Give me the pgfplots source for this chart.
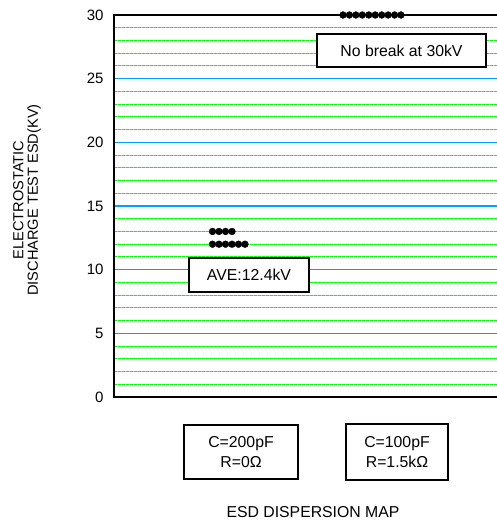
\documentclass[border=0pt]{standalone}
\usepackage{fontspec}
\setmainfont{Liberation Sans}
\usepackage{pgfplots}
\pgfplotsset{compat=1.18}
\definecolor{gridblue}{RGB}{0,160,255}
\definecolor{gridgreen}{RGB}{0,255,0}
\begin{document}
\begin{tikzpicture}[x=1pt,y=1pt,font=\fontsize{15.8}{19}\selectfont]
\useasboundingbox (0,0) rectangle (497,524);
\begin{axis}[
  at={(114pt,127pt)}, anchor=south west,
  scale only axis, width=383pt, height=382pt,
  xmin=114, xmax=497, ymin=0, ymax=30,
  axis line style={draw=none},
  xtick=\empty,
  ytick={0,5,...,30},
  minor y tick num=4,
  major tick length=0pt, minor tick length=0pt,
  ymajorgrids, yminorgrids,
  major grid style={gridblue, line width=1.1pt},
  minor grid style={gridgreen, dash pattern=on 2.5pt off 1.5pt, line width=1pt},
  yticklabel style={font=\fontsize{15}{18}\selectfont, xshift=-7pt},
  /pgf/number format/assume math mode=true,
  clip=false,
]
\addplot[only marks, mark=*, mark size=3.4pt, black] coordinates {
(212.5,12) (219,12) (225.5,12) (232,12) (238.5,12) (245,12)
(212.5,13) (219,13) (225.5,13) (232,13)
};
\draw[line width=2pt] (axis cs:497,30) -- (axis cs:114,30) -- (axis cs:114,0) -- (axis cs:497,0);
\addplot[only marks, mark=*, mark size=3.4pt, black] coordinates {
(343,30) (349.4,30) (355.9,30) (362.3,30) (368.8,30) (375.2,30) (381.7,30) (388.1,30) (394.6,30) (401,30)
};
\end{axis}
\node[draw, line width=1.5pt, fill=white, minimum width=169pt, minimum height=33pt, inner sep=0pt] at (401.5,473.5) {No break at 30kV};
\node[draw, line width=1.5pt, fill=white, minimum width=120pt, minimum height=34pt, inner sep=0pt] at (249,249) {AVE:12.4kV};
\node[draw, line width=1.5pt, fill=white, minimum width=114pt, minimum height=54pt, inner sep=0pt, align=center, font=\fontsize{15.8}{20}\selectfont] at (241,72) {C=200pF\\R=0Ω};
\node[draw, line width=1.5pt, fill=white, minimum width=102pt, minimum height=56pt, inner sep=0pt, align=center, font=\fontsize{15.8}{20}\selectfont] at (397,72) {C=100pF\\R=1.5kΩ};
\node at (313,12) {ESD DISPERSION MAP};
\node[rotate=90, align=center, font=\fontsize{14.6}{14.5}\selectfont] at (27,324) {ELECTROSTATIC\\DISCHARGE TEST ESD(KV)};
\end{tikzpicture}
\end{document}
